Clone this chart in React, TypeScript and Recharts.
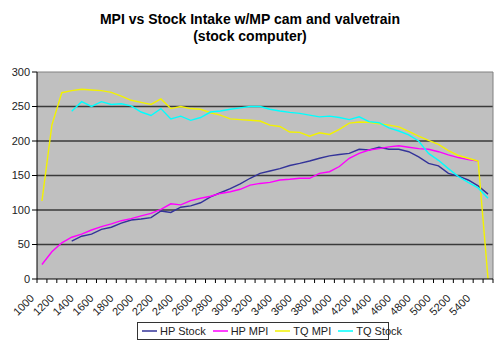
import React from 'react';
import { LineChart, Line, XAxis, YAxis, CartesianGrid, ReferenceLine } from 'recharts';

const RPM = [
  1000, 1100, 1200, 1300, 1400, 1500, 1600, 1700, 1800, 1900,
  2000, 2100, 2200, 2300, 2400, 2500, 2600, 2700, 2800, 2900,
  3000, 3100, 3200, 3300, 3400, 3500, 3600, 3700, 3800, 3900,
  4000, 4100, 4200, 4300, 4400, 4500, 4600, 4700, 4800, 4900,
  5000, 5100, 5200, 5300, 5400, 5500,
];

const HP_STOCK = [
  null, null, null, 55, 62, 65, 72, 75, 81, 85.5,
  87, 89, 98.5, 96.5, 104, 106, 110.5, 119, 125, 131,
  138, 146, 153, 156.5, 160, 164.5, 167.5, 171, 175, 178.5,
  180.5, 182, 188, 187, 191, 188, 188, 184.5, 177, 167.5,
  164, 153, 149, 143.5, 135, 123,
];

const HP_MPI = [
  21, 39.5, 52.5, 60.5, 65, 71, 76, 80, 84.5, 87.5,
  91.5, 95, 101, 109, 107.5, 113.5, 117, 120, 124, 126.5,
  130, 136, 138.5, 140, 143.5, 144.5, 146, 146, 153, 155.5,
  163, 175, 182, 187, 189, 191.5, 193, 191, 189, 188,
  184.5, 180, 176, 173, 171, null,
];

const TQ_MPI = [
  113, 223, 270, 273, 275, 274, 273, 270.5, 265, 259,
  256, 253, 261, 247, 250, 247, 246, 241, 237.5, 232,
  231, 230, 229, 223, 221, 213, 212.5, 207, 212, 209.5,
  217, 226, 227.5, 227, 225, 223, 220.5, 214, 207, 201,
  195, 186, 179, 175, 171, 0,
];

const TQ_STOCK = [
  null, null, null, 243, 257, 250, 257, 253, 254, 251,
  242, 237, 247, 232, 236, 230, 234, 242, 243.5, 246,
  248, 250, 250, 246, 243.5, 241.5, 240, 237.5, 235, 236,
  234, 231, 235, 228, 226.5, 219, 214.5, 209, 200, 182,
  172, 160, 148.5, 140, 132, 117,
];

const X_LABELS = [1000, 1200, 1400, 1600, 1800, 2000, 2200, 2400, 2600, 2800, 3000, 3200, 3400, 3600, 3800, 4000, 4200, 4400, 4600, 4800, 5000, 5200, 5400];
const Y_TICKS = [0, 50, 100, 150, 200, 250, 300];

const SERIES = [
  { key: 'hpStock', name: 'HP Stock', color: '#333399' },
  { key: 'hpMpi', name: 'HP MPI', color: '#ff00ff' },
  { key: 'tqMpi', name: 'TQ MPI', color: '#f2f200' },
  { key: 'tqStock', name: 'TQ Stock', color: '#00ffff' },
];

const data = RPM.map((rpm, i) => ({
  rpm,
  hpStock: HP_STOCK[i],
  hpMpi: HP_MPI[i],
  tqMpi: TQ_MPI[i],
  tqStock: TQ_STOCK[i],
}));

// tick marks sit between categories, like the Excel chart
const BOUNDS = [...RPM.map((r) => r - 50), RPM[RPM.length - 1] + 50];

const W = 500;
const H = 343;
const Y_W = 37;
const M_RIGHT = 7;
const HALF = (W - Y_W - M_RIGHT) / RPM.length / 2;
const FONT = '"Liberation Sans", Arial, sans-serif';

function RpmTick(props: any) {
  const { x, y, payload } = props;
  const label = payload.value + 50;
  if (!X_LABELS.includes(label)) return null;
  const cx = x + HALF - 7;
  const cy = y + 14;
  return (
    <text
      x={cx}
      y={cy}
      textAnchor="end"
      fontSize={11}
      fontFamily={FONT}
      fill="#222"
      transform={`rotate(-45, ${cx}, ${cy})`}
    >
      {label}
    </text>
  );
}

function LegendBox() {
  return (
    <div
      style={{
        position: 'absolute',
        left: 137,
        top: 322,
        width: 252,
        height: 18,
        border: '1px solid #333',
        boxSizing: 'border-box',
        display: 'flex',
        alignItems: 'center',
        paddingLeft: 4,
        fontFamily: FONT,
        fontSize: 11,
        color: '#222',
        background: '#fff',
        whiteSpace: 'nowrap',
      }}
    >
      {SERIES.map((s) => (
        <div key={s.key} style={{ display: 'flex', alignItems: 'center', marginRight: 7, flexShrink: 0 }}>
          <svg width={15} height={4} style={{ marginRight: 3 }}>
            <line x1={0} y1={2} x2={15} y2={2} stroke={s.color} strokeWidth={1.5} />
          </svg>
          <span>{s.name}</span>
        </div>
      ))}
    </div>
  );
}

export default function App() {
  return (
    <div style={{ position: 'absolute', left: 0, top: 0, width: W, height: H, background: '#fff' }}>
      <div
        style={{
          position: 'absolute',
          left: 0,
          top: 11,
          width: W,
          textAlign: 'center',
          fontFamily: FONT,
          fontWeight: 'bold',
          fontSize: 14,
          lineHeight: '17px',
          color: '#000',
        }}
      >
        MPI vs Stock Intake w/MP cam and valvetrain
        <br />
        (stock computer)
      </div>
      <LineChart width={W} height={H} data={data} margin={{ top: 72, right: M_RIGHT, bottom: 14, left: 0 }}>
        <CartesianGrid
          vertical={false}
          horizontalValues={[50, 100, 150, 200, 250]}
          stroke="#3a3a3a"
          strokeWidth={1.5}
          fill="#c0c0c0"
          fillOpacity={1}
        />
        <XAxis
          dataKey="rpm"
          type="number"
          domain={[950, 5550]}
          ticks={BOUNDS}
          interval={0}
          tick={<RpmTick />}
          tickSize={4}
          height={50}
          axisLine={{ stroke: '#000' }}
          tickLine={{ stroke: '#000' }}
        />
        <YAxis
          domain={[0, 300]}
          ticks={Y_TICKS}
          interval={0}
          width={Y_W}
          tickSize={5}
          axisLine={{ stroke: '#000' }}
          tickLine={{ stroke: '#000' }}
          tick={{ fontSize: 11, fontFamily: FONT, fill: '#222' }}
        />
        <ReferenceLine y={300} stroke="#808080" />
        <ReferenceLine x={5550} stroke="#808080" />
        {SERIES.map((s) => (
          <Line
            key={s.key}
            type="linear"
            dataKey={s.key}
            name={s.name}
            stroke={s.color}
            strokeWidth={1.4}
            dot={false}
            isAnimationActive={false}
          />
        ))}
      </LineChart>
      <LegendBox />
    </div>
  );
}
